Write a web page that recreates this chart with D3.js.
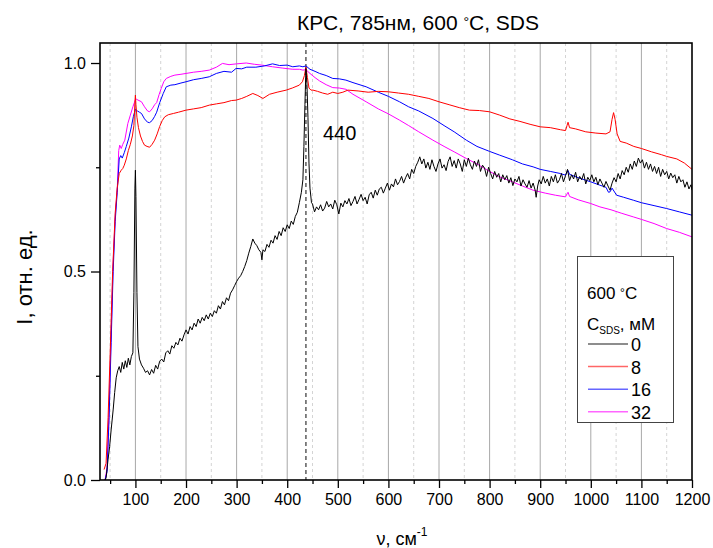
<!DOCTYPE html>
<html><head><meta charset="utf-8">
<script src="https://cdn.jsdelivr.net/npm/d3@7"></script>
<style>body{margin:0;background:#fff}svg{display:block}text{font-family:"Liberation Sans",Arial,sans-serif}</style>
</head><body><svg id="c" width="713" height="548"></svg>
<script>
const title = "КРС, 785нм, 600 °C, SDS";
const seriesNames = ["0", "8", "16", "32"];
const seriesColors = ["#000000", "#ff0000", "#0000ff", "#ff00ff"];
const xMajorTicks = [100,200,300,400,500,600,700,800,900,1000,1100,1200];
const xMinorTicks = [50,150,250,350,450,550,650,750,850,950,1050,1150];
const yMajorTicks = [0.0, 0.5, 1.0];
const yMinorTicks = [0.25, 0.75];
const peakPosition = 437;
const peakLabel = "440";

const s0 = [[40,0.0],[42,0.005],[46,0.05],[49,0.08],[52,0.12],[56,0.168],[59,0.21],[62,0.245],[65,0.262],[68,0.272],[71,0.258],[74,0.282],[77,0.266],[80,0.286],[83,0.27],[86,0.292],[89,0.276],[92,0.296],[95,0.305],[97,0.45],[99,0.7],[100,0.743],[101,0.68],[103,0.45],[105,0.32],[108,0.29],[112,0.276],[116,0.268],[120,0.258],[124,0.262],[128,0.252],[132,0.265],[136,0.256],[140,0.275],[144,0.266],[148,0.285],[152,0.29],[156,0.283],[160,0.305],[164,0.31],[168,0.302],[172,0.322],[176,0.316],[180,0.33],[184,0.324],[188,0.34],[192,0.333],[196,0.348],[200,0.36],[204,0.35],[208,0.368],[212,0.36],[216,0.376],[220,0.368],[224,0.386],[228,0.376],[232,0.39],[236,0.382],[240,0.396],[244,0.386],[248,0.4],[252,0.392],[256,0.406],[260,0.4],[264,0.418],[268,0.41],[272,0.428],[276,0.42],[280,0.437],[284,0.43],[288,0.448],[292,0.456],[296,0.466],[300,0.476],[304,0.484],[308,0.49],[312,0.5],[316,0.512],[320,0.526],[324,0.544],[328,0.56],[332,0.578],[336,0.568],[340,0.562],[344,0.552],[348,0.546],[350,0.528],[352,0.552],[356,0.548],[360,0.565],[364,0.558],[368,0.575],[372,0.568],[376,0.586],[380,0.577],[384,0.596],[388,0.586],[392,0.605],[396,0.596],[400,0.612],[404,0.603],[408,0.621],[412,0.613],[416,0.632],[420,0.642],[424,0.665],[428,0.69],[431,0.72],[433,0.8],[435,0.9],[437,0.987],[439,0.95],[441,0.87],[443,0.76],[445,0.7],[448,0.665],[450,0.662],[454,0.643],[458,0.655],[462,0.648],[466,0.66],[470,0.645],[474,0.652],[478,0.668],[482,0.655],[486,0.662],[490,0.65],[494,0.671],[498,0.66],[502,0.638],[506,0.664],[510,0.655],[514,0.67],[518,0.662],[522,0.675],[526,0.658],[530,0.668],[534,0.68],[538,0.662],[542,0.673],[546,0.685],[550,0.67],[554,0.678],[558,0.662],[562,0.684],[566,0.69],[570,0.676],[574,0.695],[578,0.683],[582,0.698],[586,0.702],[590,0.688],[594,0.7],[598,0.712],[602,0.695],[606,0.71],[610,0.703],[614,0.722],[618,0.708],[622,0.716],[626,0.728],[630,0.712],[634,0.725],[638,0.735],[642,0.722],[646,0.745],[650,0.735],[654,0.752],[658,0.762],[662,0.775],[666,0.758],[670,0.77],[674,0.748],[678,0.762],[682,0.745],[686,0.768],[690,0.752],[694,0.74],[698,0.758],[702,0.77],[706,0.748],[710,0.756],[714,0.742],[718,0.764],[722,0.775],[726,0.752],[730,0.766],[734,0.748],[738,0.77],[742,0.758],[746,0.74],[750,0.768],[754,0.752],[758,0.772],[762,0.756],[766,0.745],[770,0.765],[774,0.752],[778,0.768],[782,0.74],[786,0.755],[790,0.748],[794,0.728],[798,0.75],[802,0.735],[806,0.722],[810,0.74],[814,0.726],[818,0.735],[822,0.715],[826,0.732],[830,0.72],[834,0.73],[838,0.712],[842,0.725],[846,0.706],[850,0.722],[854,0.715],[858,0.728],[862,0.705],[866,0.72],[870,0.71],[874,0.702],[878,0.718],[882,0.7],[886,0.712],[890,0.695],[892,0.678],[895,0.705],[898,0.72],[902,0.71],[906,0.728],[910,0.712],[914,0.722],[918,0.705],[922,0.728],[926,0.715],[930,0.732],[934,0.712],[938,0.72],[942,0.735],[946,0.715],[950,0.73],[954,0.745],[958,0.718],[962,0.732],[966,0.722],[970,0.738],[974,0.715],[978,0.728],[982,0.72],[986,0.735],[990,0.71],[994,0.726],[998,0.718],[1002,0.732],[1006,0.715],[1010,0.726],[1014,0.708],[1018,0.722],[1022,0.712],[1026,0.702],[1030,0.716],[1034,0.705],[1038,0.695],[1042,0.712],[1046,0.725],[1050,0.715],[1054,0.735],[1058,0.722],[1062,0.742],[1066,0.732],[1070,0.75],[1074,0.738],[1078,0.758],[1082,0.745],[1086,0.765],[1090,0.752],[1094,0.772],[1098,0.76],[1102,0.768],[1106,0.748],[1110,0.762],[1114,0.745],[1118,0.758],[1122,0.74],[1126,0.752],[1130,0.735],[1134,0.75],[1138,0.728],[1142,0.745],[1146,0.732],[1150,0.74],[1154,0.722],[1158,0.736],[1162,0.725],[1166,0.732],[1170,0.712],[1174,0.728],[1178,0.715],[1182,0.72],[1186,0.702],[1190,0.715],[1194,0.698],[1198,0.708],[1200,0.695]];

const s8 = [[38,0.025],[42,0.04],[46,0.15],[50,0.3],[55,0.5],[60,0.64],[64,0.7],[68,0.735],[72,0.743],[75,0.747],[78,0.755],[82,0.77],[86,0.79],[90,0.805],[94,0.825],[97,0.85],[99,0.905],[100,0.923],[101,0.9],[103,0.87],[106,0.845],[110,0.825],[114,0.812],[118,0.803],[123,0.8],[128,0.798],[133,0.805],[138,0.815],[143,0.83],[148,0.848],[153,0.862],[158,0.871],[165,0.876],[175,0.879],[185,0.882],[200,0.887],[215,0.89],[230,0.893],[246,0.899],[260,0.902],[275,0.905],[290,0.91],[299,0.911],[310,0.915],[320,0.92],[332,0.927],[342,0.922],[352,0.915],[365,0.925],[380,0.93],[398,0.935],[410,0.94],[424,0.947],[430,0.955],[434,0.97],[437,0.99],[440,0.965],[443,0.94],[447,0.935],[451,0.935],[460,0.932],[470,0.928],[480,0.925],[490,0.93],[500,0.927],[510,0.93],[520,0.935],[530,0.934],[540,0.933],[560,0.93],[580,0.932],[600,0.931],[620,0.928],[640,0.925],[660,0.92],[680,0.915],[700,0.907],[720,0.9],[740,0.893],[760,0.887],[780,0.886],[800,0.883],[820,0.875],[840,0.866],[860,0.86],[880,0.853],[900,0.847],[920,0.845],[940,0.84],[950,0.838],[953,0.85],[955,0.858],[958,0.845],[970,0.842],[990,0.835],[1010,0.832],[1030,0.83],[1038,0.835],[1042,0.865],[1045,0.881],[1048,0.865],[1052,0.83],[1058,0.812],[1070,0.808],[1085,0.8],[1100,0.795],[1120,0.787],[1140,0.78],[1150,0.776],[1170,0.77],[1185,0.76],[1200,0.745]];

const s16 = [[40,0.0],[44,0.02],[48,0.15],[52,0.33],[56,0.5],[60,0.62],[64,0.69],[68,0.77],[71,0.778],[74,0.772],[78,0.785],[82,0.8],[87,0.82],[92,0.847],[96,0.872],[100,0.889],[104,0.885],[108,0.882],[112,0.879],[118,0.866],[124,0.858],[128,0.857],[133,0.862],[138,0.872],[142,0.882],[148,0.905],[155,0.927],[161,0.943],[170,0.947],[178,0.948],[190,0.952],[200,0.955],[215,0.96],[230,0.963],[246,0.967],[260,0.975],[275,0.98],[290,0.978],[299,0.987],[310,0.986],[320,0.99],[338,0.99],[355,0.993],[371,0.998],[385,0.994],[400,0.995],[411,0.991],[424,0.993],[431,0.991],[437,0.993],[445,0.985],[455,0.98],[464,0.975],[477,0.97],[490,0.963],[503,0.962],[516,0.959],[530,0.953],[556,0.943],[580,0.93],[600,0.92],[622,0.907],[640,0.895],[660,0.885],[688,0.867],[710,0.85],[730,0.835],[754,0.815],[775,0.8],[800,0.788],[820,0.779],[845,0.768],[865,0.758],[886,0.751],[900,0.745],[920,0.74],[940,0.735],[950,0.731],[953,0.738],[955,0.742],[958,0.733],[975,0.725],[1000,0.715],[1018,0.707],[1030,0.702],[1035,0.69],[1038,0.691],[1042,0.7],[1051,0.683],[1065,0.678],[1084,0.671],[1100,0.665],[1125,0.658],[1150,0.651],[1175,0.643],[1200,0.635]];

const s32 = [[40,0.0],[44,0.03],[48,0.17],[52,0.35],[56,0.52],[60,0.63],[64,0.695],[67,0.79],[69,0.803],[72,0.795],[75,0.805],[79,0.815],[85,0.855],[90,0.875],[95,0.895],[100,0.912],[102,0.913],[107,0.91],[112,0.907],[118,0.895],[124,0.885],[128,0.883],[133,0.89],[138,0.9],[142,0.905],[147,0.925],[151,0.939],[156,0.955],[161,0.963],[170,0.968],[178,0.971],[190,0.973],[200,0.975],[215,0.978],[230,0.98],[246,0.983],[260,0.99],[272,0.999],[285,0.996],[300,0.998],[319,1.0],[335,0.997],[350,0.995],[371,0.991],[390,0.988],[411,0.985],[424,0.985],[431,0.983],[437,0.984],[445,0.975],[455,0.965],[464,0.957],[477,0.948],[490,0.941],[503,0.94],[516,0.937],[530,0.925],[556,0.907],[580,0.89],[600,0.878],[622,0.863],[640,0.85],[660,0.835],[688,0.815],[710,0.8],[730,0.787],[754,0.771],[775,0.758],[800,0.74],[820,0.727],[845,0.715],[865,0.705],[886,0.695],[910,0.688],[930,0.683],[950,0.679],[953,0.686],[955,0.69],[958,0.68],[975,0.672],[1000,0.663],[1018,0.655],[1040,0.648],[1060,0.64],[1084,0.631],[1100,0.625],[1125,0.615],[1150,0.603],[1175,0.594],[1200,0.583]];

const seriesData = [s0, s8, s16, s32];

const svg = d3.select("#c");
const L = 100, R = 692, T = 43, B = 480;
const x = d3.scaleLinear().domain([30, 1200]).range([L, R]);
const y = d3.scaleLinear().domain([0, 1.048]).range([B, T]);

// grid
const g = svg.append("g");
g.selectAll(".gmin").data(xMinorTicks).join("line")
  .attr("x1", d => x(d)).attr("x2", d => x(d)).attr("y1", T).attr("y2", B)
  .attr("stroke", "#d4d4d4").attr("stroke-width", 1).attr("stroke-dasharray", "3,3");
g.selectAll(".gmaj").data(xMajorTicks.filter(d => d < 1200)).join("line")
  .attr("x1", d => x(d)).attr("x2", d => x(d)).attr("y1", T).attr("y2", B)
  .attr("stroke", "#a8a8a8").attr("stroke-width", 1);

// peak marker
svg.append("line").attr("x1", x(peakPosition)).attr("x2", x(peakPosition))
  .attr("y1", T).attr("y2", B).attr("stroke", "#333").attr("stroke-width", 1.2)
  .attr("stroke-dasharray", "4,3");

// series
const line = d3.line().x(d => x(d[0])).y(d => y(d[1]));
svg.append("clipPath").attr("id", "pc").append("rect")
  .attr("x", L).attr("y", T).attr("width", R - L).attr("height", B - T);
const order = [3, 2, 1, 0];
svg.append("g").attr("clip-path", "url(#pc)").selectAll("path").data(order).join("path")
  .attr("d", i => line(seriesData[i])).attr("fill", "none")
  .attr("stroke", i => seriesColors[i]).attr("stroke-width", 1).attr("stroke-linejoin", "round");

// axes
const xAxis = d3.axisBottom(x).tickValues(xMajorTicks).tickSize(8).tickPadding(6).tickFormat(d3.format("d"));
svg.append("g").attr("transform", `translate(0,${B})`).call(xAxis);
const xMinAxis = d3.axisBottom(x).tickValues(xMinorTicks).tickSize(4).tickFormat("");
svg.append("g").attr("transform", `translate(0,${B})`).call(xMinAxis);
const yAxis = d3.axisLeft(y).tickValues(yMajorTicks).tickSize(9).tickPadding(5).tickFormat(d3.format(".1f"));
svg.append("g").attr("transform", `translate(${L},0)`).call(yAxis);
const yMinAxis = d3.axisLeft(y).tickValues(yMinorTicks).tickSize(4).tickFormat("");
svg.append("g").attr("transform", `translate(${L},0)`).call(yMinAxis);
svg.selectAll(".domain").remove();
svg.selectAll(".tick line").attr("stroke", "#000").attr("stroke-width", 1.3);
svg.selectAll(".tick text").attr("font-size", 16).attr("fill", "#000").attr("font-family", '"Liberation Sans",Arial,sans-serif');

// frame
svg.append("rect").attr("x", L).attr("y", T).attr("width", R - L).attr("height", B - T)
  .attr("fill", "none").attr("stroke", "#000").attr("stroke-width", 1.6);

// title
const tt = svg.append("text").attr("x", 418).attr("y", 30).attr("text-anchor", "middle").attr("font-size", 21);
tt.append("tspan").text("КРС, 785нм, 600 ");
tt.append("tspan").text("°").attr("font-size", 14).attr("dy", -3);
tt.append("tspan").text("C, SDS").attr("dy", 3);

// y label
svg.append("text").attr("transform", `translate(32,277) rotate(-90)`)
  .attr("text-anchor", "middle").attr("font-size", 22).text("I, отн. ед.");

// x label
const xl = svg.append("text").attr("x", 402).attr("y", 545).attr("text-anchor", "middle").attr("font-size", 18);
xl.append("tspan").text("ν, см");
xl.append("tspan").text("-1").attr("font-size", 12).attr("dy", -9);

// peak label
svg.append("text").attr("x", 323).attr("y", 140).attr("font-size", 20).text(peakLabel);

// legend
const lg = svg.append("g");
lg.append("rect").attr("x", 577.5).attr("y", 256.5).attr("width", 96).attr("height", 166)
  .attr("fill", "#fff").attr("stroke", "#444").attr("stroke-width", 1);
const lt = lg.append("text").attr("x", 587).attr("y", 299).attr("font-size", 17);
lt.append("tspan").text("600 ");
lt.append("tspan").text("°").attr("font-size", 12).attr("dy", -2);
lt.append("tspan").text("C").attr("dy", 2);
const lc = lg.append("text").attr("x", 587).attr("y", 330).attr("font-size", 17);
lc.append("tspan").text("C");
lc.append("tspan").text("SDS").attr("font-size", 10).attr("dy", 4);
lc.append("tspan").text(", мМ").attr("dy", -4);
const rows = lg.selectAll(".row").data(seriesNames).join("g")
  .attr("transform", (d, i) => `translate(0,${344 + i * 22.6})`);
rows.append("line").attr("x1", 588).attr("x2", 628).attr("y1", 0).attr("y2", 0)
  .attr("stroke", (d, i) => seriesColors[i]).attr("stroke-opacity", 0.6).attr("stroke-width", 1.5);
rows.append("text").attr("x", 631).attr("y", 7).attr("font-size", 18).text(d => d);
</script></body></html>
